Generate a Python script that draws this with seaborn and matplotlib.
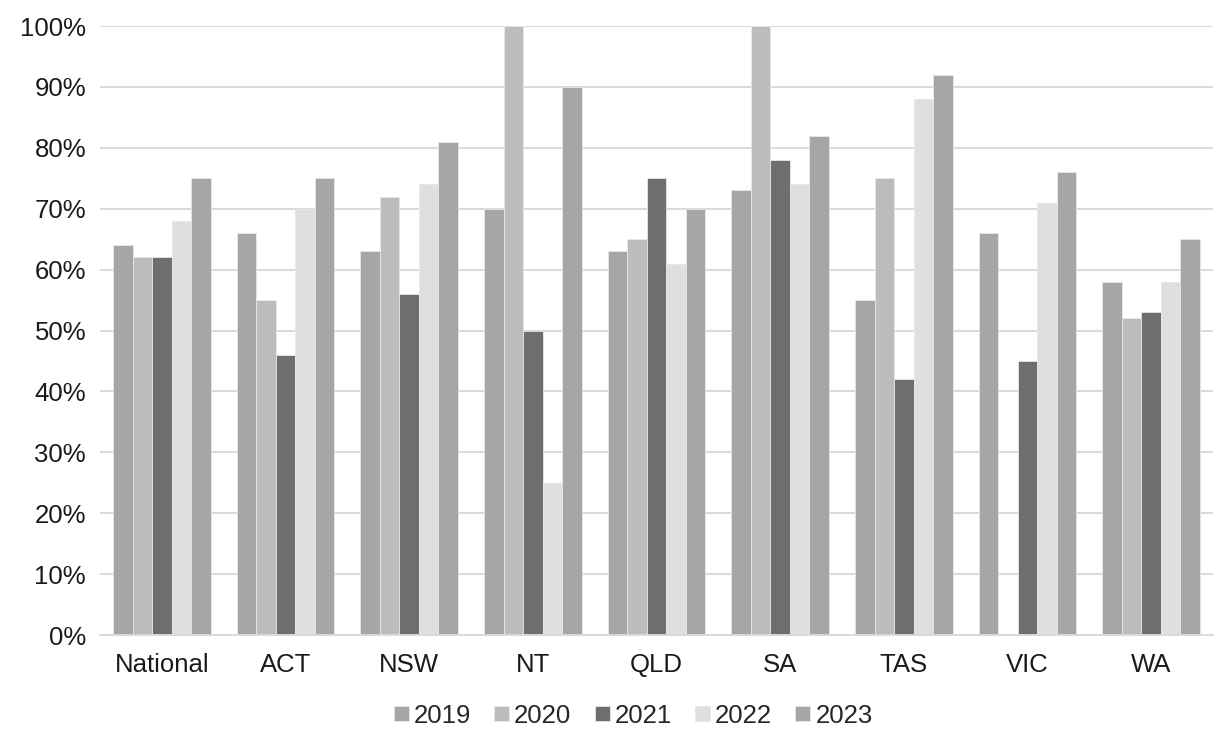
import pandas as pd
import numpy as np
import seaborn as sns
import matplotlib.pyplot as plt
from matplotlib.ticker import PercentFormatter

regions = ['National', 'ACT', 'NSW', 'NT', 'QLD', 'SA', 'TAS', 'VIC', 'WA']
years = ['2019', '2020', '2021', '2022', '2023']

v2019 = [64, 66, 63, 70, 63, 73, 55, 66, 58]
v2020 = [62, 55, 72, 100, 65, 100, 75, np.nan, 52]
v2021 = [62, 46, 56, 50, 75, 78, 42, 45, 53]
v2022 = [68, 70, 74, 25, 61, 74, 88, 71, 58]
v2023 = [75, 75, 81, 90, 70, 82, 92, 76, 65]

colors = ['#A5A6A9', '#BBBCBF', '#6D6E71', '#DEDFE1', '#A5A6A9']

df = pd.DataFrame({'region': regions, '2019': v2019, '2020': v2020,
                   '2021': v2021, '2022': v2022, '2023': v2023})
df = df.melt(id_vars='region', var_name='year', value_name='pct')

sns.set_theme(style='white')
plt.rcParams['font.family'] = ['Liberation Sans', 'DejaVu Sans']

fig = plt.figure(figsize=(12.24, 7.31), dpi=100)
ax = fig.add_axes([0.0817, 0.1313, 0.9093, 0.8331])

sns.barplot(data=df, x='region', y='pct', hue='year', order=regions,
            hue_order=years, palette=colors, width=0.79,
            edgecolor='#E8E8E8', linewidth=0.6, ax=ax, zorder=2)

ax.set_ylim(0, 100)
ax.set_yticks(range(0, 101, 10))
ax.yaxis.set_major_formatter(PercentFormatter(decimals=0))
ax.set_xlim(-0.5, len(regions) - 0.5)
ax.grid(axis='y', color='#D9D9D9', linewidth=1.4, zorder=0)
ax.set_axisbelow(True)
for s in ['top', 'right', 'left']:
    ax.spines[s].set_visible(False)
ax.spines['bottom'].set_color('#D9D9D9')
ax.spines['bottom'].set_linewidth(1.4)
ax.tick_params(axis='both', length=0, labelsize=18.5, colors='#1A1A1A')
ax.tick_params(axis='x', pad=13)
ax.tick_params(axis='y', pad=10)
ax.set_xlabel('')
ax.set_ylabel('')

ax.legend(loc='upper center', bbox_to_anchor=(0.479, -0.113), ncol=5,
          frameon=False, fontsize=18.5, handlelength=0.58, handleheight=0.5,
          handletextpad=0.2, columnspacing=0.9, borderaxespad=0,
          borderpad=0)

fig.savefig('out.png', dpi=100)
